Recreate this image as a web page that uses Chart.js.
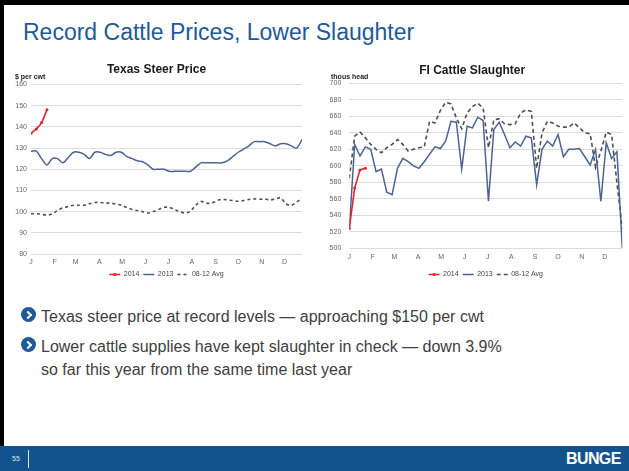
<!DOCTYPE html>
<html>
<head>
<meta charset="utf-8">
<script src="https://cdn.jsdelivr.net/npm/chart.js@4"></script>
<style>
  body { margin: 0; background: #fff; font-family: "Liberation Sans", Arial, sans-serif; }
  #slide { position: relative; width: 629px; height: 471px; overflow: hidden; background: #fff; }
  #slide .frameTop { position: absolute; left: 0; top: 0; width: 629px; height: 5px; background: #000; }
  #slide .frameLeft { position: absolute; left: 0; top: 0; width: 4px; height: 471px; background: #000; }
  h1 { position: absolute; left: 23px; top: 19px; margin: 0; font-weight: normal; font-size: 23px; color: #1d5a97; white-space: nowrap; }
  canvas { position: absolute; }
  .unit { position: absolute; font-size: 7px; font-weight: bold; color: #222; white-space: nowrap; }
  .bullet { position: absolute; left: 41px; font-size: 16px; color: #404040; line-height: 23.3px; white-space: nowrap; }
  .icon { position: absolute; left: -20px; top: 2px; width: 15px; height: 15px; border-radius: 50%; background: #1d5a97; }
  .icon::after { content: ""; position: absolute; left: 3.5px; top: 5px; width: 4px; height: 4px; border-top: 2.2px solid #fff; border-right: 2.2px solid #fff; transform: rotate(45deg); }
  #footer { position: absolute; left: 0; top: 446px; width: 629px; height: 25px; background: #13538d; }
  #footer .num { position: absolute; left: 12px; top: 9px; font-size: 7px; color: #dfe6ef; }
  #footer .sep { position: absolute; left: 28px; top: 4px; width: 1px; height: 18px; background: #dfe6ef; }
  #footer .logo { position: absolute; left: 566px; top: 4px; font-size: 16px; font-weight: bold; color: #fff; letter-spacing: -0.6px; }
</style>
</head>
<body>
<div id="slide">
  <div class="frameTop"></div>
  <div class="frameLeft"></div>
  <h1>Record Cattle Prices, Lower Slaughter</h1>

  <canvas id="steerChart" width="296" height="230" style="left:10px; top:58px;"></canvas>
  <div class="unit" style="left:15px; top:73px;">$ per cwt</div>

  <canvas id="slaughterChart" width="305" height="230" style="left:322px; top:58px;"></canvas>
  <div class="unit" style="left:331px; top:73px;">thous head</div>

  <div class="bullet" style="top:305px;"><span class="icon"></span>Texas steer price at record levels — approaching $150 per cwt</div>
  <div class="bullet" style="top:335px;"><span class="icon"></span>Lower cattle supplies have kept slaughter in check — down 3.9%<br>so far this year from the same time last year</div>

  <div id="footer">
    <div class="num">55</div>
    <div class="sep"></div>
    <div class="logo">BUNGE</div>
  </div>
</div>

<script>
// month axis: day of year where each month starts, weekly data points
const monthStartDay = [0, 31, 59, 90, 120, 151, 181, 212, 243, 273, 304, 334];
const monthLabels = ['J', 'F', 'M', 'A', 'M', 'J', 'J', 'A', 'S', 'O', 'N', 'D'];
const seriesLabels = ['2014', '2013', '08-12 Avg'];

// Texas steer price, $ per cwt (weekly)
const steer2014 = [137, 139, 142, 148];
const steer2013 = [128.5, 128.5, 125, 122, 125, 125, 123, 125.5, 128, 128, 127, 125, 128, 128, 127, 126.5,
  128, 128, 126, 125, 124, 123.5, 122, 120, 120, 120, 119, 119, 119, 119, 119, 121,
  123, 123, 123, 123, 123, 124, 126, 128, 129.5, 131, 133, 133, 133, 132, 131, 132,
  132, 131, 130, 134];
const steerAvg = [99, 99, 98.8, 98.3, 99, 100.5, 101.8, 102.4, 103, 103, 103, 103.7, 104.3, 104.3, 104, 104,
  103.5, 103, 102, 101, 100.5, 100, 99.3, 100, 101, 102, 102, 101, 100, 99.3, 100.2, 103,
  104.8, 104, 104, 105.2, 105.8, 105.5, 105.2, 104.9, 105.2, 105.7, 106, 105.8, 106, 105.5, 106, 106.5,
  103.6, 103, 104.5, 106.3];

// FI cattle slaughter, thousand head (weekly)
const slaughter2014 = [524, 573, 595, 597];
const slaughter2013 = [523, 626, 612, 623, 620, 593, 596, 568, 565, 597, 609, 605, 600, 597, 605, 614,
  623, 621, 630, 654, 653, 596, 648, 646, 659, 655, 557, 644, 653, 638, 622, 629,
  624, 636, 634, 577, 620, 630, 624, 638, 611, 620, 620, 621, 611, 601, 620, 557,
  628, 609, 617, 500];
const slaughterAvg = [585, 636, 641, 634, 626, 620, 616, 622, 626, 632, 626, 618, 620, 622, 623, 654,
  652, 667, 677, 675, 658, 645, 664, 672, 676, 670, 622, 656, 657, 651, 650, 651,
  664, 668, 666, 597, 640, 654, 652, 648, 647, 647, 652, 646, 640, 639, 598, 618,
  641, 638, 579, 524];

const toPoints = arr => arr.map((v, i) => ({ x: i, y: v }));

// small dot on the 2014 legend line
const legendDot = {
  id: 'legendDot',
  afterDraw(chart) {
    const lg = chart.legend;
    if (!lg || !lg.legendHitBoxes) return;
    const ctx = chart.ctx;
    lg.legendHitBoxes.forEach((hb, i) => {
      const ds = chart.data.datasets[i];
      if (!ds.pointRadius) return;
      ctx.save();
      ctx.fillStyle = ds.borderColor;
      ctx.beginPath();
      ctx.arc(hb.left + 5.5, hb.top + hb.height / 2, 1.6, 0, Math.PI * 2);
      ctx.fill();
      ctx.restore();
    });
  }
};

function makeChart(id, cfg) {
  const ctx = document.getElementById(id).getContext('2d');
  return new Chart(ctx, {
    type: 'line',
    data: {
      datasets: [
        { label: seriesLabels[0], data: toPoints(cfg.s2014), borderColor: '#e3262c', backgroundColor: '#e3262c',
          borderWidth: 1.6, pointRadius: 1.5, pointBorderWidth: 0, tension: cfg.tension },
        { label: seriesLabels[1], data: toPoints(cfg.s2013), borderColor: '#4b6491', backgroundColor: '#4b6491',
          borderWidth: 1.5, pointRadius: 0, tension: cfg.tension },
        { label: seriesLabels[2], data: toPoints(cfg.avg), borderColor: '#505050', backgroundColor: '#505050',
          borderWidth: 1.6, borderDash: cfg.dash, pointRadius: 0, tension: cfg.tension }
      ]
    },
    options: {
      responsive: false,
      animation: false,
      devicePixelRatio: 1,
      layout: { padding: cfg.pad },
      plugins: {
        title: {
          display: true, text: cfg.title, color: '#1a1a1a',
          font: { family: 'Liberation Sans, Arial', size: 12, weight: 'bold' },
          padding: cfg.titlePad
        },
        legend: {
          position: 'bottom',
          fullSize: false,
          labels: {
            usePointStyle: true, pointStyleWidth: 11, padding: 4, color: '#444',
            font: { family: 'Liberation Sans, Arial', size: 7 },
            generateLabels: chart => chart.data.datasets.map((ds, i) => ({
              text: ds.label, strokeStyle: ds.borderColor, fillStyle: ds.borderColor,
              lineWidth: ds.borderWidth, lineDash: ds.borderDash || [], pointStyle: 'line',
              hidden: false, datasetIndex: i, fontColor: '#444'
            }))
          }
        },
        tooltip: { enabled: false }
      },
      scales: {
        x: {
          type: 'linear', min: 0, max: 51,
          grid: { display: false, drawTicks: false }, border: { display: false },
          afterBuildTicks: axis => { axis.ticks = monthStartDay.map(d => ({ value: d / 7 })); },
          afterFit: axis => { axis.height = cfg.xHeight; },
          ticks: {
            autoSkip: false, maxRotation: 0, padding: cfg.xPad, color: '#666',
            font: { family: 'Liberation Sans, Arial', size: 7 },
            callback: (v, i) => monthLabels[i]
          }
        },
        y: {
          min: cfg.yMin, max: cfg.yMax,
          grid: { color: '#dcdcdc', drawTicks: false }, border: { display: false },
          afterFit: axis => { axis.width = cfg.yWidth; },
          ticks: {
            stepSize: cfg.yStep, padding: cfg.yPad, color: '#666',
            font: { family: 'Liberation Sans, Arial', size: 7 }
          }
        }
      }
    },
    plugins: [legendDot]
  });
}

makeChart('steerChart', {
  title: 'Texas Steer Price', s2014: steer2014, s2013: steer2013, avg: steerAvg, tension: 0.3, dash: [3, 3],
  pad: { left: 1, right: 4, top: 0, bottom: 0 }, titlePad: { top: 4, bottom: 8 },
  xHeight: 13, xPad: 3.5, yWidth: 20, yPad: 4, yMin: 80, yMax: 160, yStep: 10
});

makeChart('slaughterChart', {
  title: 'FI Cattle Slaughter', s2014: slaughter2014, s2013: slaughter2013, avg: slaughterAvg, tension: 0, dash: [4, 3],
  pad: { left: 0, right: 4.7, top: 0, bottom: 0 }, titlePad: { top: 5, bottom: 6 },
  xHeight: 18.7, xPad: 5, yWidth: 27.3, yPad: 8, yMin: 500, yMax: 700, yStep: 20
});
</script>
</body>
</html>
